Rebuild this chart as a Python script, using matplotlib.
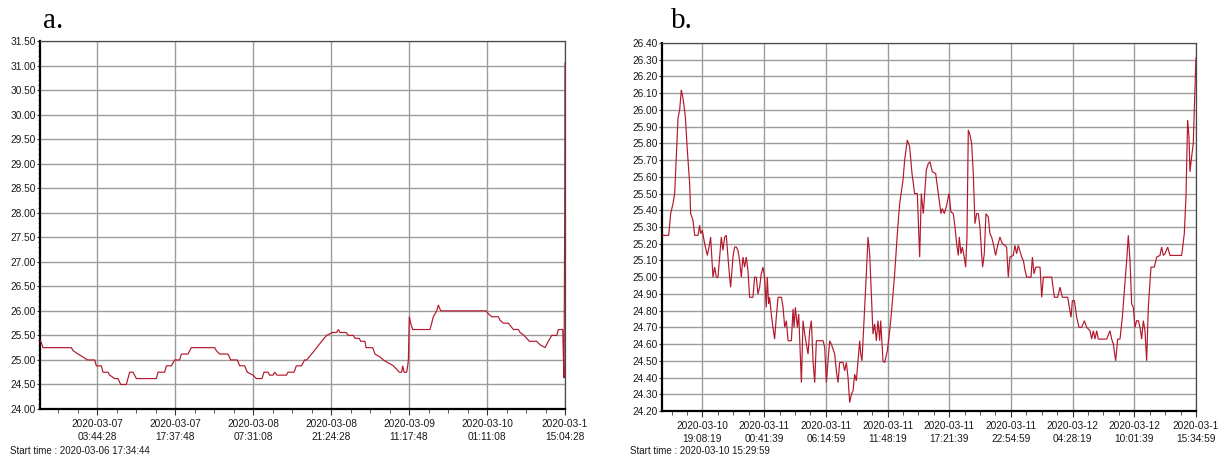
import matplotlib
matplotlib.use("Agg")
import matplotlib.pyplot as plt
from matplotlib.ticker import FixedLocator, MultipleLocator
from datetime import datetime

# ---------------- data: panel a ----------------
a_start = "2020-03-06 17:34:44"
a_tick_times = ["2020-03-07 03:44:28", "2020-03-07 17:37:48", "2020-03-08 07:31:08",
                "2020-03-08 21:24:28", "2020-03-09 11:17:48", "2020-03-10 01:11:08",
                "2020-03-10 15:04:28"]
a_tick_labels = ["2020-03-07\n03:44:28", "2020-03-07\n17:37:48", "2020-03-08\n07:31:08",
                 "2020-03-08\n21:24:28", "2020-03-09\n11:17:48", "2020-03-10\n01:11:08",
                 "2020-03-1\n15:04:28"]
a_hours = [0.0, 0.18, 0.53, 5.58, 5.88, 6.77, 7.66, 8.43, 9.74, 10.03, 10.92, 11.22, 12.11,
           12.41, 13.30, 13.89, 14.37, 15.37, 15.97, 16.56, 17.16, 20.72, 21.02, 22.20, 22.50,
           23.39, 23.98, 24.87, 25.17, 26.36, 26.95, 31.11, 31.40, 32.00, 33.48, 33.96, 35.14,
           35.56, 36.45, 36.92, 37.93, 38.53, 39.54, 39.89, 40.61, 40.90, 41.50, 41.79, 42.21,
           43.87, 44.17, 45.24, 45.65, 46.54, 47.13, 47.49, 48.38, 49.27, 50.16, 51.05, 52.06,
           52.83, 53.13, 53.43, 54.50, 54.91, 55.80, 56.10, 56.87, 57.11, 57.88, 58.06, 59.25,
           59.66, 60.55, 61.14, 62.03, 62.92, 63.52, 63.99, 64.41, 64.59, 64.83, 65.30, 65.48,
           65.60, 65.77, 66.01, 66.37, 69.46, 70.05, 70.65, 70.94, 71.36, 79.43, 79.85, 80.44,
           81.63, 81.92, 82.51, 83.40, 83.82, 84.30, 85.19, 85.49, 86.20, 87.15, 88.45, 89.05,
           89.94, 90.53, 91.13, 92.02, 92.31, 93.10, 93.20, 93.32, 93.44, 93.50]
a_temp = [25.40, 25.37, 25.25, 25.25, 25.19, 25.12, 25.06, 25.00, 25.00, 24.88, 24.88, 24.75,
          24.75, 24.69, 24.62, 24.62, 24.50, 24.50, 24.75, 24.75, 24.62, 24.62, 24.75, 24.75,
          24.88, 24.88, 25.00, 25.00, 25.12, 25.12, 25.25, 25.25, 25.19, 25.12, 25.12, 25.00,
          25.00, 24.88, 24.88, 24.75, 24.69, 24.62, 24.62, 24.75, 24.75, 24.69, 24.69, 24.75,
          24.69, 24.69, 24.75, 24.75, 24.88, 24.88, 25.00, 25.00, 25.12, 25.25, 25.38, 25.50,
          25.56, 25.56, 25.62, 25.56, 25.56, 25.50, 25.50, 25.44, 25.44, 25.38, 25.38, 25.25,
          25.25, 25.12, 25.06, 25.00, 24.94, 24.88, 24.81, 24.75, 24.75, 24.88, 24.75, 24.75,
          24.88, 25.00, 25.88, 25.75, 25.62, 25.62, 25.88, 26.00, 26.12, 26.00, 26.00, 25.94,
          25.88, 25.88, 25.81, 25.75, 25.75, 25.69, 25.62, 25.62, 25.56, 25.50, 25.38, 25.38,
          25.31, 25.25, 25.38, 25.50, 25.50, 25.62, 25.62, 25.10, 24.63, 27.85, 31.05]
a_yticks = [24.0, 24.5, 25.0, 25.5, 26.0, 26.5, 27.0, 27.5, 28.0, 28.5, 29.0, 29.5, 30.0,
            30.5, 31.0, 31.5]

# ---------------- data: panel b ----------------
b_start = "2020-03-10 15:29:59"
b_tick_times = ["2020-03-10 19:08:19", "2020-03-11 00:41:39", "2020-03-11 06:14:59",
                "2020-03-11 11:48:19", "2020-03-11 17:21:39", "2020-03-11 22:54:59",
                "2020-03-12 04:28:19", "2020-03-12 10:01:39", "2020-03-12 15:34:59"]
b_tick_labels = ["2020-03-10\n19:08:19", "2020-03-11\n00:41:39", "2020-03-11\n06:14:59",
                 "2020-03-11\n11:48:19", "2020-03-11\n17:21:39", "2020-03-11\n22:54:59",
                 "2020-03-12\n04:28:19", "2020-03-12\n10:01:39", "2020-03-1\n15:34:59"]
b_hours = [0.0, 0.60, 0.78, 0.99, 1.14, 1.29, 1.44, 1.59, 1.74, 1.89, 2.10, 2.28, 2.49, 2.58,
           2.79, 2.94, 3.24, 3.39, 3.48, 3.63, 3.84, 4.08, 4.29, 4.38, 4.59, 4.74, 4.89, 5.04,
           5.19, 5.34, 5.49, 5.64, 5.79, 5.94, 6.09, 6.18, 6.39, 6.54, 6.69, 6.84, 6.99, 7.14,
           7.29, 7.44, 7.59, 7.74, 7.89, 8.19, 8.34, 8.49, 8.64, 8.79, 8.94, 9.09, 9.24, 9.39,
           9.48, 9.60, 9.69, 9.84, 9.99, 10.14, 10.29, 10.45, 10.75, 10.90, 11.05, 11.20, 11.35,
           11.65, 11.80, 11.89, 12.01, 12.19, 12.31, 12.49, 12.55, 12.70, 12.85, 13.00, 13.15,
           13.30, 13.45, 13.60, 13.75, 13.90, 14.20, 14.50, 14.65, 14.80, 14.95, 15.10, 15.25,
           15.55, 15.70, 15.85, 16.00, 16.30, 16.45, 16.60, 16.75, 16.90, 17.05, 17.20, 17.35,
           17.50, 17.65, 17.80, 17.89, 18.01, 18.19, 18.40, 18.55, 18.70, 18.85, 19.00, 19.15,
           19.30, 19.45, 19.60, 19.69, 19.90, 20.05, 20.29, 20.50, 20.65, 20.95, 21.19, 21.40,
           21.70, 21.85, 22.09, 22.30, 22.51, 22.75, 22.99, 23.20, 23.35, 23.53, 23.80,
           23.98, 24.13, 24.34, 24.64, 24.88, 25.12, 25.24, 25.42, 25.63, 25.84, 26.02, 26.23,
           26.38, 26.53, 26.68, 26.77, 26.92, 27.04, 27.22, 27.34, 27.46, 27.58, 27.73, 27.88,
           28.03, 28.18, 28.33, 28.48, 28.63, 28.78, 28.87, 29.02, 29.17, 29.38, 29.53, 29.68,
           29.83, 30.04, 30.19, 30.43, 30.64, 30.88, 31.03, 31.18, 31.33, 31.63, 31.78, 31.93,
           32.08, 32.39, 32.54, 32.69, 32.84, 33.23, 33.35, 33.50, 33.65, 34.04, 34.19, 34.34,
           35.09, 35.33, 35.63, 35.84, 36.05, 36.53, 36.83, 36.95, 37.13, 37.34, 37.55, 37.79,
           38.03, 38.24, 38.54, 38.69, 38.84, 38.99, 39.14, 39.29, 39.74, 40.04, 40.34, 40.49,
           40.64, 40.85, 41.03, 41.24, 41.45, 41.63, 41.84, 41.99, 42.14, 42.29, 42.44, 42.59,
           42.74, 42.89, 43.04, 43.19, 43.34, 43.49, 43.64, 43.79, 44.03, 44.33, 44.54, 44.84,
           44.99, 45.14, 45.29, 45.53, 45.74, 46.79, 47.03, 47.18, 47.33, 47.45, 47.54, 47.69,
           47.84, 47.93, 48.08]
b_temp = [25.25, 25.25, 25.38, 25.44, 25.50, 25.72, 25.95, 26.00, 26.12, 26.07, 25.96, 25.76,
          25.56, 25.38, 25.34, 25.25, 25.25, 25.31, 25.26, 25.28, 25.20, 25.13, 25.20, 25.24,
          25.00, 25.06, 25.00, 25.00, 25.12, 25.24, 25.16, 25.24, 25.25, 25.12, 25.00, 24.94,
          25.12, 25.18, 25.18, 25.16, 25.10, 25.00, 25.12, 25.06, 25.12, 25.04, 24.88, 24.88,
          25.00, 25.00, 24.90, 24.94, 25.02, 25.06, 25.00, 24.82, 25.00, 24.84, 24.88, 24.78,
          24.70, 24.63, 24.76, 24.88, 24.88, 24.82, 24.70, 24.74, 24.62, 24.62, 24.81, 24.70,
          24.82, 24.70, 24.78, 24.48, 24.37, 24.74, 24.66, 24.60, 24.54, 24.68, 24.74, 24.50,
          24.37, 24.62, 24.62, 24.62, 24.58, 24.37, 24.50, 24.62, 24.60, 24.54, 24.44, 24.37,
          24.49, 24.49, 24.44, 24.49, 24.40, 24.25, 24.30, 24.32, 24.42, 24.38, 24.50, 24.62,
          24.54, 24.50, 24.74, 25.02, 25.24, 25.14, 24.90, 24.66, 24.72, 24.62, 24.74, 24.62,
          24.74, 24.50, 24.49, 24.56, 24.68, 24.78, 25.02, 25.26, 25.44, 25.58, 25.70, 25.82,
          25.78, 25.62, 25.50, 25.50, 25.12, 25.50, 25.38, 25.64,
          25.68, 25.69, 25.63, 25.62, 25.50, 25.38, 25.41, 25.38, 25.43, 25.50, 25.39, 25.38,
          25.30, 25.20, 25.13, 25.24, 25.14, 25.18, 25.12, 25.06, 25.24, 25.88, 25.85, 25.80,
          25.62, 25.32, 25.38, 25.38, 25.30, 25.14, 25.06, 25.14, 25.38, 25.36, 25.26, 25.24,
          25.20, 25.13, 25.18, 25.24, 25.20, 25.19, 25.18, 25.00, 25.12, 25.13, 25.19, 25.14,
          25.19, 25.12, 25.10, 25.04, 25.00, 25.00, 25.12, 25.02, 25.06, 25.06, 24.88, 25.00,
          25.00, 24.88, 24.88, 24.94, 24.88, 24.88, 24.76, 24.86, 24.86, 24.76, 24.70, 24.70,
          24.74, 24.70, 24.68, 24.63, 24.68, 24.63, 24.68, 24.63, 24.63, 24.63, 24.68, 24.63,
          24.60, 24.50, 24.63, 24.63, 24.76, 24.92, 25.10, 25.25, 25.10, 24.84, 24.82, 24.70,
          24.74, 24.74, 24.70, 24.63, 24.74, 24.68, 24.50, 24.82, 25.06, 25.06, 25.12, 25.13,
          25.18, 25.13, 25.14, 25.18, 25.13, 25.13, 25.26, 25.48, 25.94, 25.84, 25.63, 25.72,
          25.80, 26.00, 26.31]
b_yticks = [24.2, 24.3, 24.4, 24.5, 24.6, 24.7, 24.8, 24.9, 25.0, 25.1, 25.2, 25.3, 25.4,
            25.5, 25.6, 25.7, 25.8, 25.9, 26.0, 26.1, 26.2, 26.3, 26.4]

# ---------------- styling ----------------
LINE = "#b3182b"
GRID = "#9c9c9c"
TXT = "#1a1a1a"
FONT = ["Liberation Sans", "DejaVu Sans"]
plt.rcParams["font.family"] = FONT

fmt = "%Y-%m-%d %H:%M:%S"


def hours_since(start, stamps):
    t0 = datetime.strptime(start, fmt)
    return [(datetime.strptime(s, fmt) - t0).total_seconds() / 3600.0 for s in stamps]


W, H = 1227, 458
fig = plt.figure(figsize=(W / 100, H / 100), dpi=100)


def panel(rect, hours, temp, start, tick_times, tick_labels, yticks, ymin, ymax,
          yminor, letter, letter_x, start_x):
    ax = fig.add_axes([rect[0] / W, 1 - rect[3] / H, (rect[2] - rect[0]) / W,
                       (rect[3] - rect[1]) / H])
    ax.plot(hours, temp, color=LINE, lw=0.85, solid_joinstyle="miter", zorder=3)
    xt = hours_since(start, tick_times)
    step = xt[1] - xt[0]
    ax.set_xlim(0, xt[-1])
    ax.set_ylim(ymin, ymax)
    ax.set_xticks(xt)
    ax.set_xticklabels(tick_labels)
    minors = []
    m = xt[0] - step / 4
    while m > 0:
        minors.append(m)
        m -= step / 4
    for t in xt[:-1]:
        minors += [t + step / 4 * k for k in (1, 2, 3)]
    ax.xaxis.set_minor_locator(FixedLocator(minors))
    ax.set_yticks(yticks)
    ax.set_yticklabels(["%.2f" % v for v in yticks])
    if yminor:
        ax.yaxis.set_minor_locator(MultipleLocator(yminor))
    ax.grid(True, which="major", color=GRID, lw=1.0)
    ax.set_axisbelow(True)
    for s in ("left", "bottom"):
        ax.spines[s].set_color("black")
        ax.spines[s].set_linewidth(1.6)
    for s in ("top", "right"):
        ax.spines[s].set_color("#4a4a4a")
        ax.spines[s].set_linewidth(0.9)
    ax.tick_params(axis="x", which="major", length=4, width=0.8, color="#333333",
                   pad=3, labelsize=7.3, labelcolor=TXT)
    ax.tick_params(axis="x", which="minor", length=3, width=0.7, color="#555555")
    ax.tick_params(axis="y", which="major", length=2, width=0.8, color="#333333",
                   pad=1, labelsize=7.3, labelcolor=TXT)
    ax.tick_params(axis="y", which="minor", length=1.5, width=0.6, color="#555555")
    for lab in ax.get_xticklabels():
        lab.set_linespacing(1.45)
    fig.text(letter_x / W, 1 - 28 / H, letter, fontsize=21,
             family=["Liberation Serif", "DejaVu Serif"], color="black",
             ha="left", va="baseline")
    fig.text(start_x / W, 1 - 451 / H, "Start time : " + start, fontsize=7.0,
             color=TXT, ha="left", va="center")
    return ax


panel((40, 41, 565, 409), a_hours, a_temp, a_start, a_tick_times, a_tick_labels,
      a_yticks, 24.0, 31.5, 0.1, "a.", 43, 10)
panel((662, 43, 1196, 411), b_hours, b_temp, b_start, b_tick_times, b_tick_labels,
      b_yticks, 24.2, 26.4, None, "b.", 671, 630)

fig.savefig("out.png", dpi=100, facecolor="white")
